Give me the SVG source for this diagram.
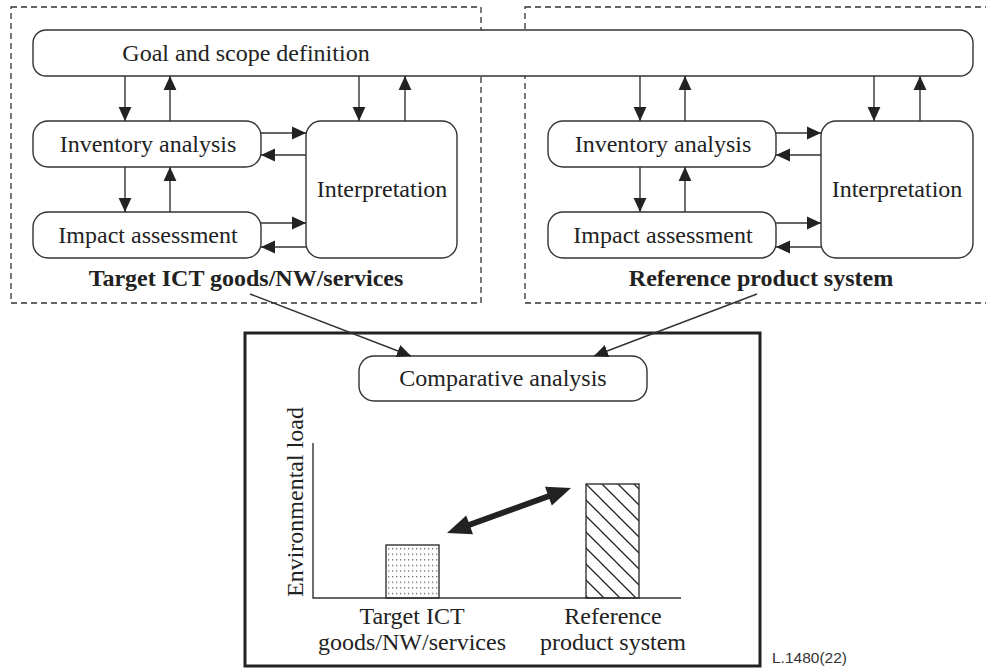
<svg xmlns="http://www.w3.org/2000/svg" width="986" height="668" viewBox="0 0 986 668">
<style>
.box{fill:#fff;stroke:#333;stroke-width:1.4}
.dash{fill:none;stroke:#333;stroke-width:1.3;stroke-dasharray:6,4}
.t{font-family:"Liberation Serif","Times New Roman",serif;font-size:24px;fill:#222;text-anchor:middle}
.b{font-weight:bold}
.ln{stroke:#333;stroke-width:1.4;fill:none;marker-end:url(#ah)}
</style>
<defs>
<marker id="ah" markerUnits="userSpaceOnUse" markerWidth="14" markerHeight="14" viewBox="0 0 12 12" refX="12" refY="6" orient="auto">
<path d="M0,0.5 L12,6 L0,11.5 Z" fill="#222"/>
</marker>
<pattern id="hatch" patternUnits="userSpaceOnUse" width="16" height="16" x="586" y="484">
<path d="M-2,-2 L18,18 M-18,-2 L2,18 M14,-2 L34,18" stroke="#222" stroke-width="1.3"/>
</pattern>
<pattern id="dots" patternUnits="userSpaceOnUse" width="4" height="5.6" x="387" y="547">
<rect x="1" y="1" width="1.3" height="1.3" fill="#666"/>
</pattern>
</defs>
<rect width="986" height="668" fill="#fff"/>

<g id="left-system">
<rect class="dash" x="11" y="7" width="470" height="296"/>
<text class="t b" x="246" y="286">Target ICT goods/NW/services</text>
</g>
<g id="right-system">
<rect class="dash" x="525" y="7" width="470" height="296"/>
<text class="t b" x="761" y="286">Reference product system</text>
</g>

<g id="goal">
<rect class="box" x="33" y="30" width="940" height="46" rx="13"/>
<text class="t" x="246" y="61">Goal and scope definition</text>
</g>

<g id="inventory-left">
<rect class="box" x="33" y="121" width="228" height="46" rx="15"/>
<text class="t" x="148" y="152">Inventory analysis</text>
</g>
<g id="impact-left">
<rect class="box" x="33" y="212" width="228" height="46" rx="15"/>
<text class="t" x="148" y="243">Impact assessment</text>
</g>
<g id="interpretation-left">
<rect class="box" x="306" y="121" width="151" height="137" rx="15"/>
<text class="t" x="382" y="197">Interpretation</text>
</g>

<g id="inventory-right">
<rect class="box" x="548" y="121" width="228" height="46" rx="15"/>
<text class="t" x="663" y="152">Inventory analysis</text>
</g>
<g id="impact-right">
<rect class="box" x="548" y="212" width="228" height="46" rx="15"/>
<text class="t" x="663" y="243">Impact assessment</text>
</g>
<g id="interpretation-right">
<rect class="box" x="821" y="121" width="152" height="137" rx="15"/>
<text class="t" x="897" y="197">Interpretation</text>
</g>

<g id="comparison-panel">
<rect x="245" y="333" width="515" height="333" fill="none" stroke="#222" stroke-width="3"/>
</g>
<g id="comparative">
<rect class="box" x="359" y="356" width="288" height="45" rx="15"/>
<text class="t" x="503" y="386">Comparative analysis</text>
</g>

<g id="chart">
<path d="M313,443 L313,598 L681,598" fill="none" stroke="#333" stroke-width="1.4"/>
<text class="t" transform="translate(303,502) rotate(-90)">Environmental load</text>
<rect x="386" y="545" width="53" height="53" fill="url(#dots)" stroke="#333" stroke-width="1.4"/>
<rect x="586" y="484" width="53" height="114" fill="url(#hatch)" stroke="#333" stroke-width="1.4"/>
<polygon points="447,533 466.2,515.4 468.6,522.0 547.4,493.4 545.0,486.8 571,488 551.8,505.6 549.4,499.0 470.6,527.6 473.0,534.2" fill="#222"/>
<text class="t" x="412" y="624">Target ICT</text>
<text class="t" x="412" y="650">goods/NW/services</text>
<text class="t" x="613" y="624">Reference</text>
<text class="t" x="613" y="650">product system</text>
</g>

<g id="connectors">
<line class="ln" x1="125" y1="76" x2="125" y2="121"/>
<line class="ln" x1="170" y1="121" x2="170" y2="76"/>
<line class="ln" x1="125" y1="167" x2="125" y2="212"/>
<line class="ln" x1="170" y1="212" x2="170" y2="167"/>
<line class="ln" x1="359" y1="76" x2="359" y2="121"/>
<line class="ln" x1="405" y1="121" x2="405" y2="76"/>
<line class="ln" x1="261" y1="133" x2="306" y2="133"/>
<line class="ln" x1="306" y1="155" x2="261" y2="155"/>
<line class="ln" x1="261" y1="223" x2="306" y2="223"/>
<line class="ln" x1="306" y1="247" x2="261" y2="247"/>

<line class="ln" x1="640" y1="76" x2="640" y2="121"/>
<line class="ln" x1="685" y1="121" x2="685" y2="76"/>
<line class="ln" x1="640" y1="167" x2="640" y2="212"/>
<line class="ln" x1="685" y1="212" x2="685" y2="167"/>
<line class="ln" x1="874" y1="76" x2="874" y2="121"/>
<line class="ln" x1="920" y1="121" x2="920" y2="76"/>
<line class="ln" x1="776" y1="133" x2="821" y2="133"/>
<line class="ln" x1="821" y1="155" x2="776" y2="155"/>
<line class="ln" x1="776" y1="223" x2="821" y2="223"/>
<line class="ln" x1="821" y1="247" x2="776" y2="247"/>

<line class="ln" x1="250" y1="294" x2="411" y2="356"/>
<line class="ln" x1="757" y1="294" x2="594" y2="356"/>
</g>

<text x="772" y="663" font-family="'Liberation Sans',Arial,sans-serif" font-size="15.5" fill="#333">L.1480(22)</text>
</svg>
